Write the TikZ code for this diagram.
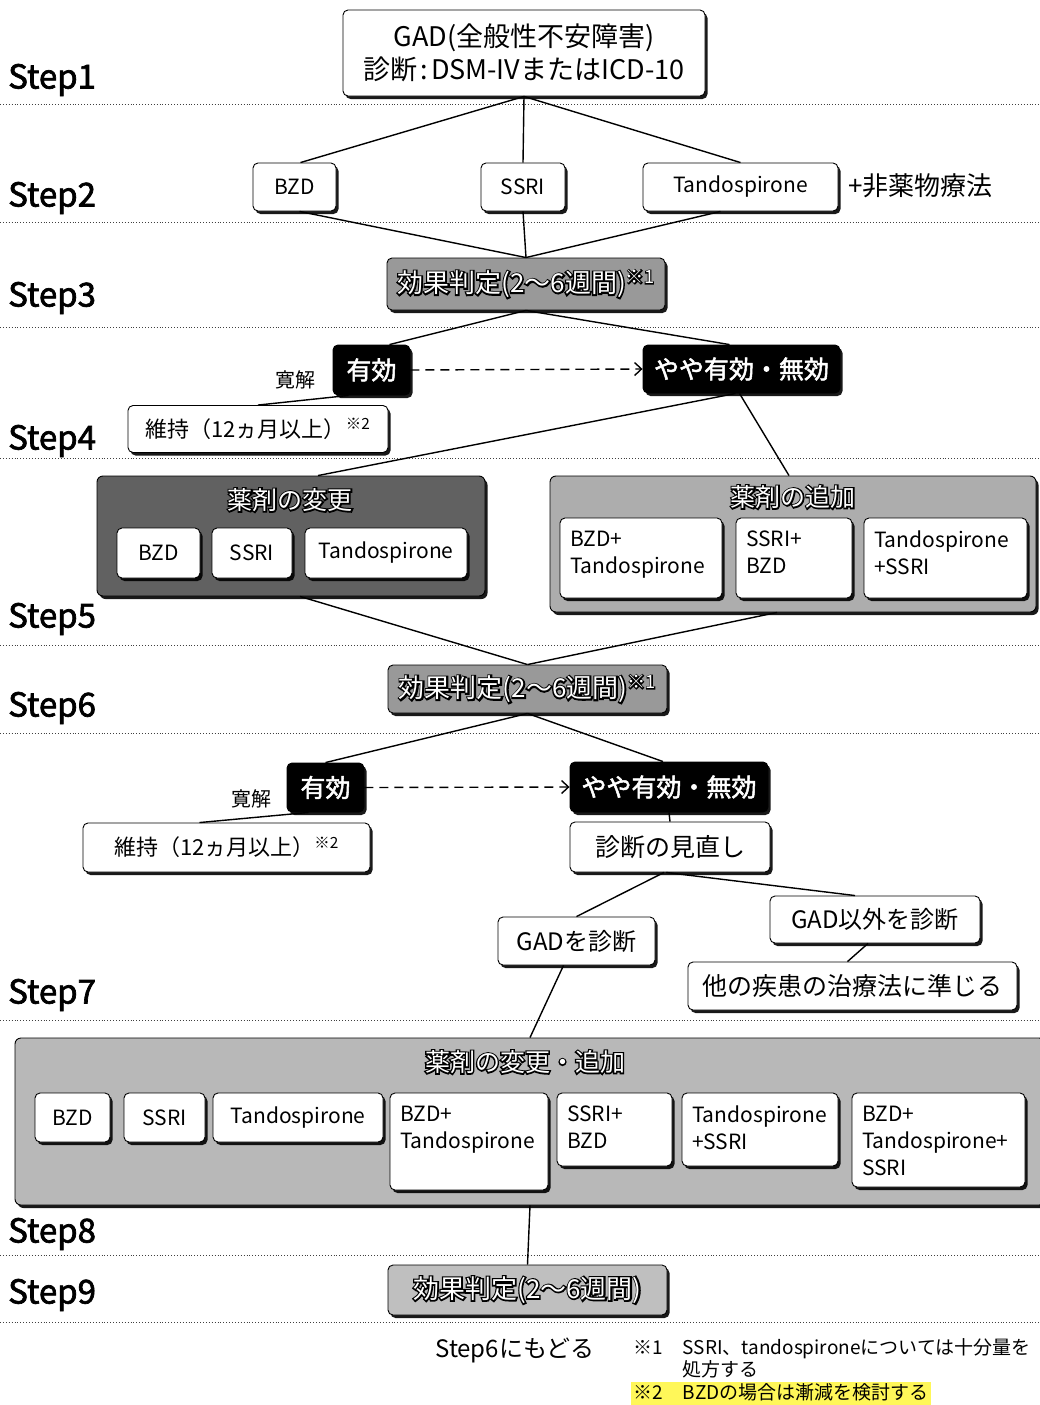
\documentclass[tikz,border=0pt]{standalone}
\usepackage{fontspec}
\setmainfont{Noto Sans CJK JP}
\newfontfamily\olfont{Noto Sans CJK JP}[FakeBold=11]
\newfontfamily\bfont{Noto Sans CJK JP}[FakeBold=2]
\usetikzlibrary{shadows,calc,arrows.meta}
\newcommand\fs[2]{\fontsize{#1}{#2}\selectfont}
\newcommand\outl[1]{\makebox[0pt][l]{\olfont\color{black}#1}{\color{white}#1}}
\newcommand\twoline[4]{\parbox[c][#2pt][t]{#1pt}{\raggedright #3\\#4}}
\tikzset{
  wbox/.style={draw=black, line width=0.9pt, rounded corners=5pt, fill=white,
    drop shadow={shadow xshift=2.5pt, shadow yshift=-3pt, fill=black, opacity=0.9},
    inner sep=0pt, align=center},
  bkbox/.style={wbox, fill=black, text=white, font=\bfont\fs{25}{30}},
  effbox/.style={wbox, fill=black!40, font=\fs{26}{30}},
  grpbox/.style={wbox, rounded corners=6pt},
  mbox/.style={wbox, inner xsep=10pt, inner ysep=13pt, font=\fs{21}{27}},
  steplab/.style={anchor=west, inner sep=0pt, font=\bfont\fs{33}{38}},
  sepline/.style={dotted, line width=0.9pt, black!75},
  conn/.style={line width=1.4pt},
  darr/.style={conn, dash pattern=on 9pt off 6pt, -{Straight Barb[length=7pt,width=13pt]}},
  lbl/.style={inner sep=0pt},
}
\begin{document}
\begin{tikzpicture}[x=1pt,y=-1pt]
\useasboundingbox[fill=white] (0,0) rectangle (1039,1405);

% step labels
\node[steplab] (s1) at (8,80) {Step1};
\node[steplab] (s2) at (8,198) {Step2};
\node[steplab] (s3) at (8,298) {Step3};
\node[steplab] (s4) at (8,441) {Step4};
\node[steplab] (s5) at (8,619) {Step5};
\node[steplab] (s6) at (8,708) {Step6};
\node[steplab] (s7) at (8,995) {Step7};
\node[steplab] (s8) at (8,1234) {Step8};
\node[steplab] (s9) at (8,1295) {Step9};

% separators
\foreach \yy in {104,222,327,458,645,733,1020,1255,1322}
  \draw[sepline] (0,\yy) -- (1039,\yy);

% step 1-2
\node[wbox, minimum width=362, minimum height=86, font=\fs{27}{33}] (gad) at (524,53)
  {GAD(全般性不安障害)\\診断\hspace{3pt}:\hspace{3pt}DSM-IVまたはICD-10};
\node[wbox, minimum width=83, minimum height=48, font=\fs{21}{25}] (bzd1) at (294.5,187) {BZD};
\node[wbox, minimum width=84, minimum height=48, font=\fs{21}{25}] (ssri1) at (523,187) {SSRI};
\node[wbox, minimum width=195, minimum height=48, font=\fs{21}{25}] (tando1) at (740.5,187) {Tandospirone};
\node[lbl, anchor=west, font=\fs{26}{30}] (nonph) at (848,186) {+非薬物療法};

% step 3
\node[effbox, minimum width=278, minimum height=52] (eff1) at (526,284) {\outl{効果判定(2～6週間)\textsuperscript{※1}}};

% step 4
\node[bkbox, minimum width=77, minimum height=50] (yuko1) at (371.5,370) {有効};
\node[bkbox, minimum width=197, minimum height=48] (yaya1) at (741.5,369) {やや有効・無効};
\node[lbl, font=\fs{20}{24}] (kan1) at (295,380) {寛解};
\node[wbox, minimum width=260, minimum height=47, font=\fs{22}{26}] (iji1) at (258,429) {維持（12ヵ月以上）\textsuperscript{※2}};

% step 5 groups
\node[grpbox, fill=black!62, minimum width=388, minimum height=120] (chg) at (291,536) {};
\node[lbl, font=\fs{25}{30}] (chgt) at (290,500) {\outl{薬剤の変更}};
\node[wbox, minimum width=83, minimum height=50, font=\fs{21}{25}] (cb) at (158.5,553) {BZD};
\node[wbox, minimum width=80, minimum height=50, font=\fs{21}{25}] (cs) at (252,553) {SSRI};
\node[wbox, minimum width=162, minimum height=50, font=\fs{21}{25}] (ct) at (386,553) {Tandospirone};

\node[grpbox, fill=black!32, minimum width=486, minimum height=136] (add) at (793,544) {};
\node[lbl, font=\fs{25}{30}] (addt) at (793,497) {\outl{薬剤の追加}};
\node[mbox] (a1) at (641,558) {\twoline{142}{54}{BZD+}{Tandospirone}};
\node[mbox] (a2) at (794,558) {\twoline{96}{54}{SSRI+}{BZD}};
\node[mbox] (a3) at (945.5,558) {\twoline{143}{54}{Tandospirone}{+SSRI}};

% step 6
\node[effbox, minimum width=279, minimum height=48] (eff2) at (527.5,689) {\outl{効果判定(2～6週間)\textsuperscript{※1}}};
\node[bkbox, minimum width=77, minimum height=49] (yuko2) at (325.5,787.5) {有効};
\node[bkbox, minimum width=198, minimum height=50] (yaya2) at (669,787) {やや有効・無効};
\node[lbl, font=\fs{20}{24}] (kan2) at (251,799) {寛解};
\node[wbox, minimum width=287, minimum height=49, font=\fs{22}{26}] (iji2) at (226.5,847.5) {維持（12ヵ月以上）\textsuperscript{※2}};
\node[wbox, minimum width=200, minimum height=50, font=\fs{25}{30}] (rev) at (670,847) {診断の見直し};

% step 7
\node[wbox, minimum width=157, minimum height=48, font=\fs{24}{28}] (gaddx) at (576.5,941) {GADを診断};
\node[wbox, minimum width=210, minimum height=47, font=\fs{24}{28}] (gadoth) at (875,919.5) {GAD以外を診断};
\node[wbox, minimum width=329, minimum height=48, font=\fs{25}{30}] (other) at (852.5,986) {他の疾患の治療法に準じる};

% step 8 group
\node[grpbox, fill=black!28, minimum width=1030, minimum height=167] (grp8) at (530,1121.5) {};
\node[lbl, font=\fs{25}{30}] (grp8t) at (525,1062) {\outl{薬剤の変更・追加}};
\node[wbox, minimum width=75, minimum height=49, font=\fs{21}{25}] (b1) at (72.5,1117.5) {BZD};
\node[wbox, minimum width=81, minimum height=49, font=\fs{21}{25}] (b2) at (164.5,1117.5) {SSRI};
\node[wbox, minimum width=170, minimum height=49, font=\fs{21}{25}] (b3) at (298,1117.5) {Tandospirone};
\node[mbox] (b4) at (469,1141.5) {\twoline{138}{71}{BZD+}{Tandospirone}};
\node[mbox] (b5) at (614.5,1129.5) {\twoline{95}{47}{SSRI+}{BZD}};
\node[mbox] (b6) at (760,1129.5) {\twoline{136}{47}{Tandospirone}{+SSRI}};
\node[mbox] (b7) at (938.5,1140) {\parbox[c][68pt][t]{153pt}{\raggedright BZD+\\Tandospirone+\\SSRI}};

% step 9
\node[effbox, fill=black!25, minimum width=279, minimum height=50] (eff3) at (527.5,1290) {\outl{効果判定(2～6週間)}};

% footer
\node[lbl, font=\fs{24}{28}] (back) at (515,1350) {Step6にもどる};
\node[lbl, anchor=north west, font=\fs{19}{21}, align=left] (note1) at (633,1338)
  {\begin{tabular}{@{}l@{\hspace{20pt}}l@{}}※1 & SSRI、tandospironeについては十分量を\\ & 処方する\end{tabular}};
\node[lbl, anchor=north west, fill=yellow!65, inner xsep=2pt, inner ysep=1pt, font=\fs{19}{21}] (note2) at (631,1382)
  {\begin{tabular}{@{}l@{\hspace{20pt}}l@{}}※2 & BZDの場合は漸減を検討する\end{tabular}};

% connectors
\draw[conn] (gad.south) -- ($(bzd1.north)+(6,0)$);
\draw[conn] (gad.south) -- (ssri1.north);
\draw[conn] (gad.south) -- (tando1.north);
\draw[conn] ($(bzd1.south)+(5,0)$) -- (eff1.north);
\draw[conn] (ssri1.south) -- (eff1.north);
\draw[conn] ($(tando1.south)+(-20,0)$) -- (eff1.north);
\draw[conn] (eff1.south) -- ($(yuko1.north)+(18,0)$);
\draw[conn] (eff1.south) -- ($(yaya1.north)+(-12,0)$);
\draw[darr] (yuko1.east) -- (yaya1.west);
\draw[conn] ($(yuko1.south)+(-23,0)$) -- (iji1.north);
\draw[conn] ($(yaya1.south)+(-6,0)$) -- ($(chg.north)+(27,0)$);
\draw[conn] ($(yaya1.south)+(-2,0)$) -- ($(add.north)+(-4,0)$);
\draw[conn] ($(chg.south)+(9,0)$) -- (eff2.north);
\draw[conn] ($(add.south)+(-16,0)$) -- (eff2.north);
\draw[conn] (eff2.south) -- (yuko2.north);
\draw[conn] (eff2.south) -- ($(yaya2.north)+(-6,0)$);
\draw[darr] (yuko2.east) -- (yaya2.west);
\draw[conn] ($(yuko2.south)+(-17,0)$) -- ($(iji2.north)+(-27,0)$);
\draw[conn] (yaya2.south) -- (rev.north);
\draw[conn] ($(rev.south)+(-6,0)$) -- (gaddx.north);
\draw[conn] ($(rev.south)+(-4,0)$) -- ($(gadoth.north)+(-20,0)$);
\draw[conn] ($(gadoth.south)+(-7,0)$) -- ($(other.north)+(-5,0)$);
\draw[conn] ($(gaddx.south)+(-13,0)$) -- (grp8.north);
\draw[conn] (grp8.south) -- (eff3.north);
\end{tikzpicture}
\end{document}
